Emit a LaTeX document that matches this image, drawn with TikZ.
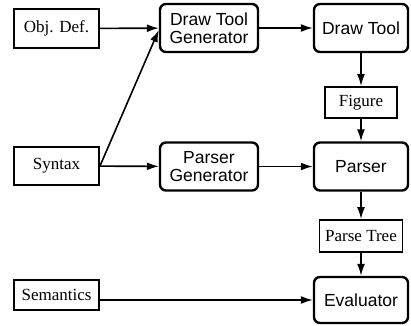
\documentclass[tikz,border=0pt]{standalone}
\usepackage{fontspec}
\setmainfont{Liberation Serif}
\newfontfamily\helv{Liberation Sans}
\usetikzlibrary{arrows.meta}
\begin{document}
\begin{tikzpicture}[x=1pt,y=-1pt,
  plainbox/.style={draw,line width=1.9pt,inner sep=0pt,align=center,
    font=\fontsize{17}{19}\selectfont},
  toolbox/.style={draw,line width=2.4pt,rounded corners=6pt,inner sep=0pt,
    align=center,minimum width=94pt,minimum height=48pt,
    font=\helv\fontsize{17.5}{18}\selectfont},
  flow/.style={line width=1.6pt,-{Latex[length=12pt,width=8pt]}}]
\useasboundingbox (0,0) rectangle (411,325);
% inputs on the left
\node[plainbox,minimum width=85pt,minimum height=39pt] (objdef) at (56.5,28.5) {Obj. Def.};
\node[plainbox,minimum width=85pt,minimum height=38pt] (syntax) at (56.5,166) {Syntax};
\node[plainbox,minimum width=85pt,minimum height=30pt] (sem) at (56.5,295) {Semantics};
% generators
\node[toolbox,minimum width=98pt] (dtg) at (209,28) {Draw Tool\\Generator};
\node[toolbox,minimum width=98pt] (pg) at (209,166.5) {Parser\\Generator};
% tools
\node[toolbox] (dt) at (361,28) {Draw Tool};
\node[toolbox] (parser) at (361,166.5) {Parser};
\node[toolbox,minimum height=46pt] (eval) at (361,300) {Evaluator};
% intermediate data
\node[plainbox,minimum width=72pt,minimum height=31pt] (fig) at (361,102.5) {Figure};
\node[plainbox,minimum width=83pt,minimum height=32pt] (ptree) at (361,236) {Parse Tree};
% connectors
\draw[flow] (objdef) -- (dtg);
\draw[flow] (syntax.east) -- ([yshift=-2pt]dtg.west);
\draw[flow] (syntax) -- (pg);
\draw[flow] (dtg) -- (dt);
\draw[flow] (pg) -- (parser);
\draw[flow] (dt) -- (fig);
\draw[flow] (fig) -- (parser);
\draw[flow] (parser) -- (ptree);
\draw[flow] (ptree) -- (eval);
\draw[flow] (sem.east |- eval.west) -- (eval.west);
\end{tikzpicture}
\end{document}
